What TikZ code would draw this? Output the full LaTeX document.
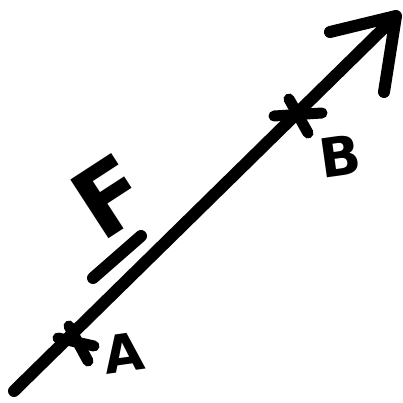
\documentclass[tikz,border=0pt]{standalone}
\usepackage{fontspec}
\setmainfont{DejaVu Sans}
\begin{document}
\begin{tikzpicture}[x=1pt,y=-1pt,
  pen/.style={line width=12pt,line cap=round,line join=round,black},
  thinpen/.style={line width=11pt,line cap=round,line join=round,black},
  hand/.style={font=\bfseries,text=black,inner sep=0pt}]
\useasboundingbox (0,0) rectangle (403,403);
% main vector
\coordinate (start) at (14,391);
\coordinate (end) at (392,20);
\coordinate (tip) at (396,16);
\coordinate (armL) at (330,32);
\coordinate (armR) at (384,92);
\draw[pen] (start) -- (end);
\draw[pen] (armL) -- (tip) -- (armR);
% point A
\coordinate (pA) at (75,340);
\draw[thinpen] (58,338) -- (94,346);
\draw[thinpen] (69,326) -- (88,361);
\node[hand,font=\bfseries\fontsize{52}{52}\selectfont,rotate=8] (labA) at (124,353) {A};
% point B
\coordinate (pB) at (297,113);
\draw[thinpen] (274,116) -- (322,113);
\draw[thinpen] (289,99) -- (308,133);
\node[hand,font=\bfseries\fontsize{54}{54}\selectfont,rotate=8] (labB) at (340,156) {B};
% F with underline
\node[hand,font=\bfseries\fontsize{96}{96}\selectfont,rotate=33] (labF) at (110,196) {F};
\coordinate (u1) at (93,278);
\coordinate (u2) at (141,236);
\draw[pen] (u1) -- (u2);
\end{tikzpicture}
\end{document}
